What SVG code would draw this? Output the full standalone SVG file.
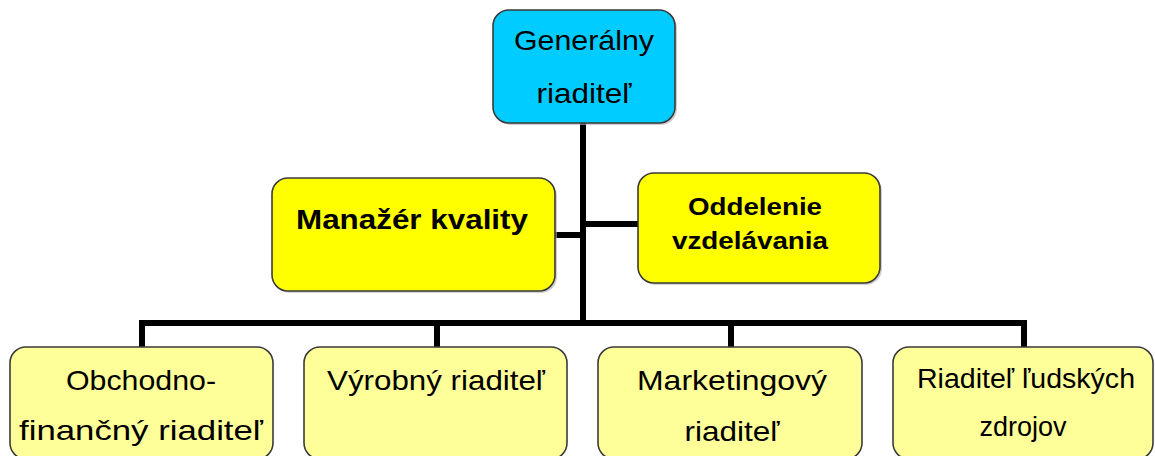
<svg xmlns="http://www.w3.org/2000/svg" width="1155" height="456" viewBox="0 0 1155 456">
<defs>
<style>
.box{stroke:#3a3a3a;stroke-width:1.6}
.shadow{fill:#b0b0b0;opacity:0.6}
.t{font-family:"Liberation Sans",Arial,sans-serif;fill:#000;text-anchor:middle}
.n{font-size:28px}
.b{font-size:27px;font-weight:bold}
.b2{font-size:24px;font-weight:bold}
.conn{stroke:#000;stroke-width:6;fill:none;stroke-linecap:square;stroke-linejoin:miter}
</style>
</defs>
<rect width="1155" height="456" fill="#fff"/>
<g id="connectors">
<path class="conn" d="M583,123 V323"/>
<path class="conn" d="M555,235 H583"/>
<path class="conn" d="M583,224 H638"/>
<path class="conn" d="M142,347 V323 H1024 V347"/>
<path class="conn" d="M437,323 V347"/>
<path class="conn" d="M731,323 V347"/>
</g>
<g id="n-general">
<rect class="shadow" x="495" y="12" width="182" height="113" rx="16"/>
<rect class="box" x="493" y="10" width="182" height="113" rx="16" fill="#00ccff"/>
<text class="t n" x="584" y="50" textLength="140" lengthAdjust="spacingAndGlyphs">Generálny</text>
<text class="t n" x="584" y="103" textLength="95" lengthAdjust="spacingAndGlyphs">riaditeľ</text>
</g>
<g id="n-manazer">
<rect class="shadow" x="274" y="180" width="283" height="113" rx="16"/>
<rect class="box" x="272" y="178" width="283" height="113" rx="16" fill="#ffff00"/>
<text class="t b" x="412" y="229" textLength="232" lengthAdjust="spacingAndGlyphs">Manažér kvality</text>
</g>
<g id="n-oddelenie">
<rect class="shadow" x="640" y="175" width="242" height="110" rx="16"/>
<rect class="box" x="638" y="173" width="242" height="110" rx="16" fill="#ffff00"/>
<text class="t b2" x="755" y="215" textLength="134" lengthAdjust="spacingAndGlyphs">Oddelenie</text>
<text class="t b2" x="750" y="249" textLength="156" lengthAdjust="spacingAndGlyphs">vzdelávania</text>
</g>
<g id="n-obchodno">
<rect class="box" x="10" y="347" width="263" height="112" rx="16" fill="#ffff99"/>
<text class="t n" x="141" y="390" textLength="150" lengthAdjust="spacingAndGlyphs">Obchodno-</text>
<text class="t n" x="141" y="440" textLength="244" lengthAdjust="spacingAndGlyphs">finančný riaditeľ</text>
</g>
<g id="n-vyrobny">
<rect class="box" x="304" y="347" width="263" height="112" rx="16" fill="#ffff99"/>
<text class="t n" x="436" y="390" textLength="218" lengthAdjust="spacingAndGlyphs">Výrobný riaditeľ</text>
</g>
<g id="n-marketing">
<rect class="box" x="598" y="347" width="264" height="112" rx="16" fill="#ffff99"/>
<text class="t n" x="732" y="390" textLength="190" lengthAdjust="spacingAndGlyphs">Marketingový</text>
<text class="t n" x="732" y="441" textLength="95" lengthAdjust="spacingAndGlyphs">riaditeľ</text>
</g>
<g id="n-ludske">
<rect class="box" x="893" y="347" width="260" height="112" rx="16" fill="#ffff99"/>
<text class="t" style="font-size:27px" x="1026" y="388" textLength="218" lengthAdjust="spacingAndGlyphs">Riaditeľ  ľudských</text>
<text class="t" style="font-size:28px" x="1023" y="436" textLength="87" lengthAdjust="spacingAndGlyphs">zdrojov</text>
</g>
</svg>
